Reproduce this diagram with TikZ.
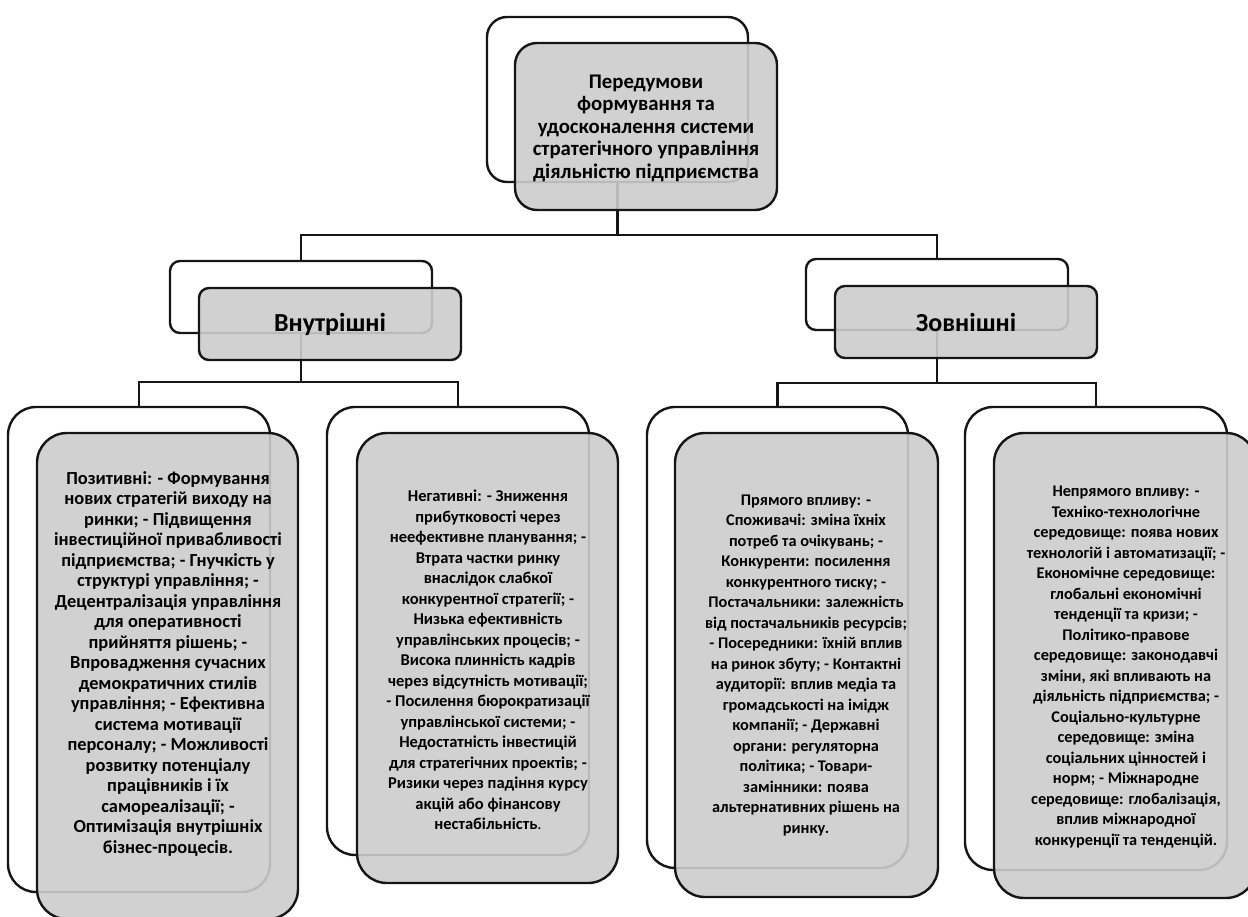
\documentclass[tikz,border=0pt]{standalone}
\usepackage{fontspec}
\setmainfont{Carlito}
\definecolor{boxgray}{HTML}{CCCCCC}
\definecolor{edge}{HTML}{151515}
\begin{document}
\begin{tikzpicture}[x=1pt,y=-1pt,
  backbox/.style={draw=edge, line width=2.4pt, rectangle, inner sep=0pt},
  frontbox/.style={draw=edge, line width=2.4pt, rectangle, inner sep=0pt, fill=boxgray, fill opacity=0.9},
  conn/.style={draw=edge, line width=2.2pt},
  txt/.style={align=center, inner sep=0pt, text=black},
  toptxt/.style={txt, font=\fontsize{20.8}{22.5}\selectfont\bfseries},
  midtxt/.style={txt, font=\fontsize{26}{30}\selectfont\bfseries},
  lowtxt/.style={txt, font=\fontsize{16.3}{20.5}\selectfont\bfseries}
]
\useasboundingbox (0,0) rectangle (1248,916);
\clip (0,0) rectangle (1248,916);

% back boxes
\node[backbox, rounded corners=20pt, minimum width=261pt, minimum height=165pt] (topback) at (617.5,99.5) {};
\node[backbox, rounded corners=10pt, minimum width=262pt, minimum height=72pt] (inback) at (301,297) {};
\node[backbox, rounded corners=10pt, minimum width=262pt, minimum height=71pt] (exback) at (937,294.5) {};
\node[backbox, rounded corners=28pt, minimum width=262pt, minimum height=485pt] (b1back) at (139,649.5) {};
\node[backbox, rounded corners=28pt, minimum width=262pt, minimum height=448pt] (b2back) at (458,631) {};
\node[backbox, rounded corners=28pt, minimum width=261pt, minimum height=461pt] (b3back) at (777.5,637.5) {};
\node[backbox, rounded corners=28pt, minimum width=262pt, minimum height=463pt] (b4back) at (1096,638.5) {};

% connectors
\coordinate (j0) at (617.5,235);
\coordinate (j1) at (301,382);
\coordinate (j2) at (937,383);
\draw[conn] (topback.south) -- (j0);
\draw[conn] (inback.north) |- (j0) -| (exback.north);
\draw[conn] (inback.south) -- (j1);
\draw[conn] (b1back.north) |- (j1) -| (b2back.north);
\draw[conn] (exback.south) -- (j2);
\draw[conn] (b3back.north) |- (j2) -| (b4back.north);

% front boxes
\node[frontbox, rounded corners=22pt, minimum width=262pt, minimum height=167pt] (topfront) at (646,126.5) {};
\node[frontbox, rounded corners=10pt, minimum width=262pt, minimum height=72pt] (infront) at (330,324) {};
\node[frontbox, rounded corners=10pt, minimum width=262pt, minimum height=72pt] (exfront) at (966,322) {};
\node[frontbox, rounded corners=30pt, minimum width=261pt, minimum height=486pt] (b1front) at (167.5,676) {};
\node[frontbox, rounded corners=30pt, minimum width=261pt, minimum height=450pt] (b2front) at (487.5,658) {};
\node[frontbox, rounded corners=30pt, minimum width=263pt, minimum height=464pt] (b3front) at (806.5,665) {};
\node[frontbox, rounded corners=30pt, minimum width=262pt, minimum height=465pt] (b4front) at (1125,665.5) {};

% texts
\node[toptxt] (toptext) at (646,128) {Передумови\\формування та\\удосконалення системи\\стратегічного управління\\діяльністю підприємства};
\node[midtxt] (intext) at (330,324) {Внутрішні};
\node[midtxt] (extext) at (966,322) {Зовнішні};
\node[lowtxt, font=\fontsize{18.4}{20.5}\selectfont\bfseries] (b1text) at (168,664) {Позитивні: - Формування\\нових стратегій виходу на\\ринки; - Підвищення\\інвестиційної привабливості\\підприємства; - Гнучкість у\\структурі управління; -\\Децентралізація управління\\для оперативності\\прийняття рішень; -\\Впровадження сучасних\\демократичних стилів\\управління; - Ефективна\\система мотивації\\персоналу; - Можливості\\розвитку потенціалу\\працівників і їх\\самореалізації; -\\Оптимізація внутрішніх\\бізнес-процесів.};
\node[lowtxt, font=\fontsize{16.5}{20.5}\selectfont\bfseries] (b2text) at (488,660) {Негативні: - Зниження\\прибутковості через\\неефективне планування; -\\Втрата частки ринку\\внаслідок слабкої\\конкурентної стратегії; -\\Низька ефективність\\управлінських процесів; -\\Висока плинність кадрів\\через відсутність мотивації;\\- Посилення бюрократизації\\управлінської системи; -\\Недостатність інвестицій\\для стратегічних проектів; -\\Ризики через падіння курсу\\акцій або фінансову\\нестабільність{\mdseries .}};
\node[lowtxt] (b3text) at (806,665) {Прямого впливу: -\\Споживачі: зміна їхніх\\потреб та очікувань; -\\Конкуренти: посилення\\конкурентного тиску; -\\Постачальники: залежність\\від постачальників ресурсів;\\- Посередники: їхній вплив\\на ринок збуту; - Контактні\\аудиторії: вплив медіа та\\громадськості на імідж\\компанії; - Державні\\органи: регуляторна\\політика; - Товари-\\замінники: поява\\альтернативних рішень на\\ринку.};
\node[lowtxt] (b4text) at (1126,667) {Непрямого впливу: -\\Техніко-технологічне\\середовище: поява нових\\технологій і автоматизації; -\\Економічне середовище:\\глобальні економічні\\тенденції та кризи; -\\Політико-правове\\середовище: законодавчі\\зміни, які впливають на\\діяльність підприємства; -\\Соціально-культурне\\середовище: зміна\\соціальних цінностей і\\норм; - Міжнародне\\середовище: глобалізація,\\вплив міжнародної\\конкуренції та тенденцій.};
\end{tikzpicture}
\end{document}
